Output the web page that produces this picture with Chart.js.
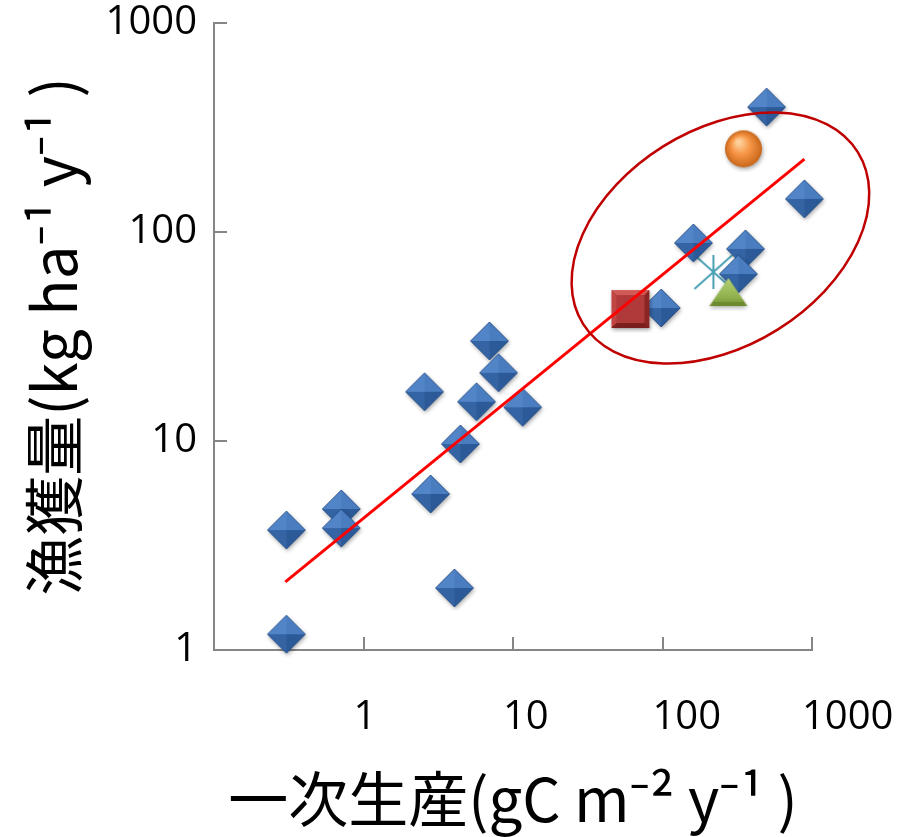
<!DOCTYPE html>
<html>
<head>
<meta charset="utf-8">
<script src="https://cdn.jsdelivr.net/npm/chart.js@4.4.0/dist/chart.umd.min.js"></script>
<style>
  html, body { margin: 0; padding: 0; background: #fff; }
</style>
</head>
<body>
<canvas id="fishChart" width="900" height="837"></canvas>
<script>
// values (both axes logarithmic)
const lakeProd  = [0.305, 0.305, 0.71, 0.71, 2.56, 2.81, 4.06, 4.45, 5.7, 6.96, 8.0, 11.6, 98, 161, 359, 322, 497, 890];
const lakeCatch = [3.75, 1.19, 4.73, 3.83, 17.2, 5.58, 1.98, 9.68, 15.4, 30.1, 21.2, 14.5, 43.3, 88.6, 83, 63, 396, 144];

const squareProd = [61];
const squareCatch = [42.8];
const circleProd = [348];
const circleCatch = [250];
const triangleProd = [276];
const triangleCatch = [51.6];
const starProd = [219];
const starCatch = [64.4];

// regression line end points
const trendProd = [0.30, 890];
const trendCatch = [2.12, 223];

const xTicks = [0.1, 1, 10, 100, 1000];
const yTicks = [1, 10, 100, 1000];

const xTitle = '一次生産(gC m⁻² y⁻¹ )';
const yTitle = '漁獲量(kg ha⁻¹ y⁻¹ )';

function toPoints(xs, ys) {
    return xs.map((v, i) => ({ x: v, y: ys[i] }));
}

// --- bevelled marker images (Excel 2007 look) ---
function blankCanvas(w, h) {
    const c = document.createElement('canvas');
    c.width = w;
    c.height = h;
    return c;
}

function makeDiamond(r) {
    const s = 2 * r + 10;
    const c = blankCanvas(s, s);
    const g = c.getContext('2d');
    const m = s / 2;
    const top = [m, m - r], right = [m + r, m], bottom = [m, m + r], left = [m - r, m], mid = [m, m];
    const outline = () => {
        g.beginPath();
        g.moveTo(top[0], top[1]); g.lineTo(right[0], right[1]); g.lineTo(bottom[0], bottom[1]); g.lineTo(left[0], left[1]);
        g.closePath();
    };
    const tri = (a, b, col) => {
        g.beginPath();
        g.moveTo(a[0], a[1]); g.lineTo(b[0], b[1]); g.lineTo(mid[0], mid[1]);
        g.closePath();
        g.fillStyle = col;
        g.fill();
    };
    g.save();
    g.shadowColor = 'rgba(0,0,0,0.35)';
    g.shadowBlur = 4;
    g.shadowOffsetX = 1;
    g.shadowOffsetY = 2;
    outline();
    g.fillStyle = '#3768a8';
    g.fill();
    g.restore();
    tri(left, top, '#5285c8');
    tri(top, right, '#4a7cc0');
    tri(right, bottom, '#2c5a98');
    tri(bottom, left, '#3564a4');
    outline();
    g.strokeStyle = 'rgba(30,70,125,0.7)';
    g.lineWidth = 1;
    g.stroke();
    return c;
}

function makeSquare(half) {
    const s = 2 * half + 10;
    const c = blankCanvas(s, s);
    const g = c.getContext('2d');
    const a = s / 2 - half, b = s / 2 + half, k = 5;
    g.save();
    g.shadowColor = 'rgba(0,0,0,0.35)';
    g.shadowBlur = 4;
    g.shadowOffsetX = 1;
    g.shadowOffsetY = 2;
    g.fillStyle = '#a3302e';
    g.fillRect(a, a, b - a, b - a);
    g.restore();
    const quad = (pts, col) => {
        g.beginPath();
        g.moveTo(pts[0][0], pts[0][1]);
        pts.slice(1).forEach(p => g.lineTo(p[0], p[1]));
        g.closePath();
        g.fillStyle = col;
        g.fill();
    };
    quad([[a, a], [b, a], [b - k, a + k], [a + k, a + k]], '#cf5a56');
    quad([[a, a], [a + k, a + k], [a + k, b - k], [a, b]], '#bf4643');
    quad([[b, a], [b, b], [b - k, b - k], [b - k, a + k]], '#8c2624');
    quad([[a, b], [a + k, b - k], [b - k, b - k], [b, b]], '#7a1f1d');
    g.fillStyle = '#b0393a';
    g.fillRect(a + k, a + k, b - a - 2 * k, b - a - 2 * k);
    return c;
}

function makeBall(r) {
    const s = 2 * r + 10;
    const c = blankCanvas(s, s);
    const g = c.getContext('2d');
    const m = s / 2;
    g.save();
    g.shadowColor = 'rgba(0,0,0,0.35)';
    g.shadowBlur = 4;
    g.shadowOffsetX = 1;
    g.shadowOffsetY = 2;
    const grad = g.createRadialGradient(m - 5, m - 7, 2, m, m, r);
    grad.addColorStop(0, '#fdd09a');
    grad.addColorStop(0.45, '#f79646');
    grad.addColorStop(1, '#c8671a');
    g.beginPath();
    g.arc(m, m, r, 0, Math.PI * 2);
    g.fillStyle = grad;
    g.fill();
    g.restore();
    return c;
}

function makeTriangle(w, h) {
    const c = blankCanvas(w + 10, h + 10);
    const g = c.getContext('2d');
    const x0 = 5, y0 = 5;
    g.save();
    g.shadowColor = 'rgba(0,0,0,0.3)';
    g.shadowBlur = 4;
    g.shadowOffsetY = 2;
    g.beginPath();
    g.moveTo(x0 + w / 2, y0);
    g.lineTo(x0 + w, y0 + h);
    g.lineTo(x0, y0 + h);
    g.closePath();
    const grad = g.createLinearGradient(0, y0, 0, y0 + h);
    grad.addColorStop(0, '#b5d174');
    grad.addColorStop(0.7, '#8fb04c');
    grad.addColorStop(1, '#6f8c33');
    g.fillStyle = grad;
    g.fill();
    g.restore();
    g.fillStyle = '#6c8a30';
    g.fillRect(x0 + 3, y0 + h - 4, w - 6, 4);
    return c;
}

function makeAsterisk(w, h) {
    const c = blankCanvas(w + 4, h + 4);
    const g = c.getContext('2d');
    const cx = c.width / 2, cy = c.height / 2;
    g.strokeStyle = '#4aa0b5';
    g.lineWidth = 2;
    g.beginPath();
    g.moveTo(cx, cy - h / 2); g.lineTo(cx, cy + h / 2);
    g.moveTo(cx - w / 2, cy + h / 2); g.lineTo(cx + w / 2, cy - h / 2);
    g.moveTo(cx - w / 2, cy - h / 2); g.lineTo(cx + w / 2, cy + h / 2);
    g.stroke();
    return c;
}

// tick marks that point into the plot, like the original
const innerTicks = {
    id: 'innerTicks',
    afterDraw(chart) {
        const { ctx, scales: { x, y } } = chart;
        ctx.save();
        ctx.strokeStyle = '#868686';
        ctx.lineWidth = 2;
        ctx.beginPath();
        xTicks.forEach(v => {
            const px = Math.round(x.getPixelForValue(v));
            ctx.moveTo(px, y.bottom);
            ctx.lineTo(px, y.bottom - 13);
        });
        yTicks.forEach(v => {
            const py = Math.round(y.getPixelForValue(v));
            ctx.moveTo(x.left, py);
            ctx.lineTo(x.left + 13, py);
        });
        ctx.stroke();
        ctx.restore();
    }
};

// hand drawn ring around the high production lakes
const ring = {
    id: 'ring',
    afterDatasetsDraw(chart, args, opts) {
        const { ctx, scales: { x, y } } = chart;
        ctx.save();
        ctx.strokeStyle = opts.color;
        ctx.lineWidth = opts.width;
        ctx.beginPath();
        ctx.ellipse(x.getPixelForValue(opts.x), y.getPixelForValue(opts.y), opts.rx, opts.ry,
            opts.angle * Math.PI / 180, 0, Math.PI * 2);
        ctx.stroke();
        ctx.restore();
    }
};

function noEdgePadding(s) {
    s.paddingLeft = 0;
    s.paddingRight = 0;
    s.paddingTop = 0;
    s.paddingBottom = 0;
}

const tickFont = { family: "'Open Sans', 'Noto Sans', sans-serif", size: 40 };
const titleFont = { family: "'Noto Sans CJK JP', 'Noto Sans', sans-serif", size: 60 };

new Chart(document.getElementById('fishChart'), {
    type: 'scatter',
    data: {
        datasets: [
            {
                label: 'trend',
                data: toPoints(trendProd, trendCatch),
                showLine: true,
                borderColor: '#ff0000',
                borderWidth: 3,
                pointRadius: 0,
                order: 0,
                clip: false
            },
            {
                label: 'lakes',
                data: toPoints(lakeProd, lakeCatch),
                pointStyle: makeDiamond(19),
                pointRadius: 19,
                order: 5,
                clip: false
            },
            {
                label: 'square',
                data: toPoints(squareProd, squareCatch),
                pointStyle: makeSquare(19),
                pointRadius: 19,
                order: 2,
                clip: false
            },
            {
                label: 'circle',
                data: toPoints(circleProd, circleCatch),
                pointStyle: makeBall(18.5),
                pointRadius: 19,
                order: 2,
                clip: false
            },
            {
                label: 'triangle',
                data: toPoints(triangleProd, triangleCatch),
                pointStyle: makeTriangle(38, 28),
                pointRadius: 19,
                order: 3,
                clip: false
            },
            {
                label: 'star',
                data: toPoints(starProd, starCatch),
                pointStyle: makeAsterisk(38, 34),
                pointRadius: 19,
                order: 6,
                clip: false
            }
        ]
    },
    options: {
        responsive: false,
        animation: false,
        events: [],
        layout: { padding: { top: 23, right: 88, left: 0, bottom: 0 } },
        plugins: {
            legend: { display: false },
            tooltip: { enabled: false },
            ring: { x: 244, y: 93.6, rx: 162, ry: 108, angle: -32, color: '#c00000', width: 2.5 }
        },
        scales: {
            x: {
                type: 'logarithmic',
                position: 'bottom',
                min: 0.1,
                max: 1000,
                afterBuildTicks: s => { s.ticks = xTicks.map(v => ({ value: v })); },
                afterFit: s => { s.height = 187; noEdgePadding(s); },
                grid: { display: false, drawTicks: false },
                border: { display: true, color: '#868686', width: 2 },
                ticks: {
                    color: '#000',
                    font: tickFont,
                    padding: 44,
                    align: 'start',
                    labelOffset: -10,
                    autoSkip: false,
                    maxRotation: 0,
                    callback: v => (v < 1 ? '' : String(v))
                },
                title: {
                    display: true,
                    text: xTitle,
                    color: '#000',
                    font: titleFont,
                    padding: { top: 0, bottom: 2 }
                }
            },
            y: {
                type: 'logarithmic',
                min: 1,
                max: 1000,
                afterBuildTicks: s => { s.ticks = yTicks.map(v => ({ value: v })); },
                afterFit: s => { s.width = 214; noEdgePadding(s); },
                grid: { display: false, drawTicks: false },
                border: { display: true, color: '#868686', width: 2 },
                ticks: {
                    color: '#000',
                    font: tickFont,
                    padding: 17,
                    autoSkip: false,
                    callback: v => String(v)
                },
                title: {
                    display: true,
                    text: yTitle,
                    color: '#000',
                    font: titleFont,
                    padding: { top: 18, bottom: 0 }
                }
            }
        }
    },
    plugins: [innerTicks, ring]
});
</script>
</body>
</html>
